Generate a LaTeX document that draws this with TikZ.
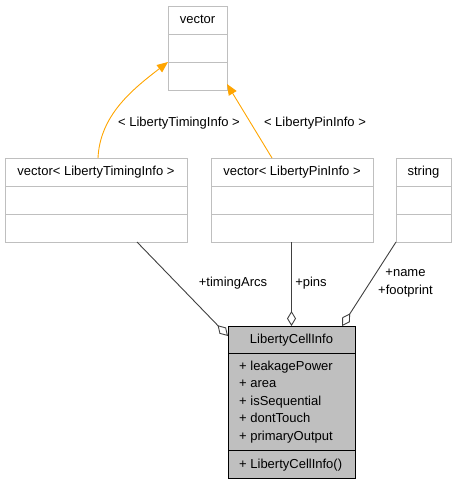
\documentclass[tikz,border=0pt]{standalone}
\usepackage{fontspec}
\setmainfont{Liberation Sans}
\usetikzlibrary{arrows.meta}
\definecolor{boxgray}{HTML}{BFBFBF}
\definecolor{edgegray}{HTML}{404040}
\definecolor{inhorange}{HTML}{FFA500}
\begin{document}
\begin{tikzpicture}[x=1pt,y=-1pt,
 classbox/.style={draw=boxgray,line width=0.9pt,anchor=north west,inner sep=0pt,outer sep=0pt,minimum height=84pt},
 cellbox/.style={draw=black,fill=boxgray,line width=0.9pt,anchor=north west,inner sep=0pt,outer sep=0pt},
 txt/.style={font=\fontsize{13}{17.5}\selectfont,inner sep=0pt,text height=9pt,text depth=2pt},
 inherit/.style={draw=inhorange,line width=0.9pt,-{Triangle[length=11pt,width=9pt]}},
 member/.style={draw=edgegray,line width=0.9pt,{Diamond[open,length=15pt,width=9pt]}-}]
 \useasboundingbox (0,0) rectangle (456,485);
 \node[classbox,minimum width=59pt] (vecBase) at (168,6) {};
 \node[classbox,minimum width=182pt] (vecTiming) at (5,158) {};
 \node[classbox,minimum width=162pt] (vecPin) at (211,158) {};
 \node[classbox,minimum width=55pt] (strBox) at (396,158) {};
 \node[cellbox,minimum width=127pt,minimum height=152pt] (cellInfo) at (228,326) {};
 \draw[boxgray,line width=0.9pt]([yshift=-28pt]vecBase.north west)--([yshift=-28pt]vecBase.north east);
 \draw[boxgray,line width=0.9pt]([yshift=28pt]vecBase.south west)--([yshift=28pt]vecBase.south east);
 \draw[boxgray,line width=0.9pt]([yshift=-28pt]vecTiming.north west)--([yshift=-28pt]vecTiming.north east);
 \draw[boxgray,line width=0.9pt]([yshift=28pt]vecTiming.south west)--([yshift=28pt]vecTiming.south east);
 \draw[boxgray,line width=0.9pt]([yshift=-28pt]vecPin.north west)--([yshift=-28pt]vecPin.north east);
 \draw[boxgray,line width=0.9pt]([yshift=28pt]vecPin.south west)--([yshift=28pt]vecPin.south east);
 \draw[boxgray,line width=0.9pt]([yshift=-28pt]strBox.north west)--([yshift=-28pt]strBox.north east);
 \draw[boxgray,line width=0.9pt]([yshift=28pt]strBox.south west)--([yshift=28pt]strBox.south east);
 \draw[black,line width=0.9pt]([yshift=-27.5pt]cellInfo.north west)--([yshift=-27.5pt]cellInfo.north east);
 \draw[black,line width=0.9pt]([yshift=27.5pt]cellInfo.south west)--([yshift=27.5pt]cellInfo.south east);
 \node[txt] (vecBaseName) at ([yshift=-14pt]vecBase.north) {vector};
 \node[txt] (vecTimingName) at ([yshift=-14pt]vecTiming.north) {vector< LibertyTimingInfo >};
 \node[txt] (vecPinName) at ([yshift=-14pt]vecPin.north) {vector< LibertyPinInfo >};
 \node[txt] (strBoxName) at ([yshift=-14pt]strBox.north) {string};
 \node[txt] (cellInfoName) at ([yshift=-14pt]cellInfo.north) {LibertyCellInfo};
 \node[txt,anchor=west] (attrPower) at (239,366.7) {+ leakagePower};
 \node[txt,anchor=west] (attrArea) at (239,384.2) {+ area};
 \node[txt,anchor=west] (attrSeq) at (239,401.7) {+ isSequential};
 \node[txt,anchor=west] (attrTouch) at (239,419.2) {+ dontTouch};
 \node[txt,anchor=west] (attrOutput) at (239,436.7) {+ primaryOutput};
 \node[txt,anchor=west] (opCtor) at (239,465) {+ LibertyCellInfo()};
 \draw[inherit]([xshift=2pt]vecTiming.north) .. controls (100,115) and (133,89) .. ([yshift=28pt]vecBase.south west);
 \draw[inherit]([xshift=-20pt]vecPin.north) -- ([yshift=6pt]vecBase.south east);
 \node[txt] (lblTiming) at (179,123) {< LibertyTimingInfo >};
 \node[txt] (lblPin) at (315,123) {< LibertyPinInfo >};
 \draw[member]([yshift=-10pt]cellInfo.north west) -- ([xshift=41pt]vecTiming.south);
 \draw[member](cellInfo.north) -- (cellInfo.north |- vecPin.south);
 \draw[member]([xshift=-13pt]cellInfo.north east) -- (strBox.south west);
 \node[txt] (lblArcs) at (233,283) {+timingArcs};
 \node[txt] (lblPins) at (311,283) {+pins};
 \node[txt,align=center,text height=,text depth=] (lblName) at (405.5,283) {+name\\+footprint};
\end{tikzpicture}
\end{document}
